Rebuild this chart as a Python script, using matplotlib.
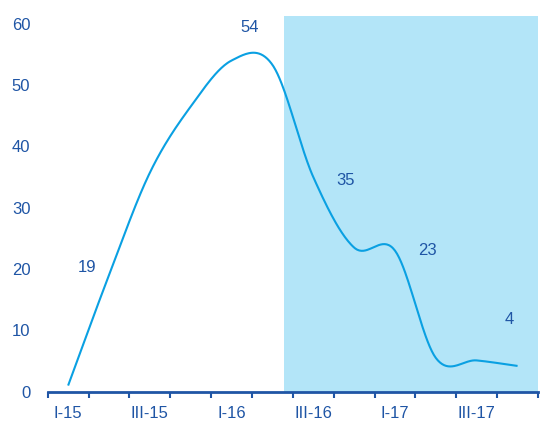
import numpy as np
import matplotlib.pyplot as plt

plt.rcParams["font.family"] = ["Liberation Sans", "DejaVu Sans"]

quarters = ["I-15", "II-15", "III-15", "IV-15",
            "I-16", "II-16", "III-16", "IV-16",
            "I-17", "II-17", "III-17", "IV-17"]
values = [1.0, 19.0, 35.7, 46.5, 54.0, 53.3, 35.0, 23.5, 23.0, 5.5, 5.1, 4.2]

# value labels: (text, x position, y position)
labels = [("19", 0.46, 20.2),
          ("54", 4.45, 59.4),
          ("35", 6.78, 34.5),
          ("23", 8.79, 23.1),
          ("4", 10.79, 11.7)]

shade_start = 5.28

LINE = "#0aa0e2"
SHADE = "#b3e5f8"
TEXT = "#1f55a5"


def smooth(y, n=40):
    # Catmull-Rom spline through the points, straight tangents at both ends
    y = np.asarray(y, dtype=float)
    m = np.empty_like(y)
    m[1:-1] = (y[2:] - y[:-2]) / 2
    m[0] = y[1] - y[0]
    m[-1] = y[-1] - y[-2]
    xs, ys = [], []
    for i in range(len(y) - 1):
        t = np.linspace(0, 1, n, endpoint=(i == len(y) - 2))
        h00 = 2 * t**3 - 3 * t**2 + 1
        h10 = t**3 - 2 * t**2 + t
        h01 = -2 * t**3 + 3 * t**2
        h11 = t**3 - t**2
        xs.append(i + t)
        ys.append(h00 * y[i] + h10 * m[i] + h01 * y[i + 1] + h11 * m[i + 1])
    return np.concatenate(xs), np.concatenate(ys)


fig = plt.figure(figsize=(5.4, 4.21), dpi=100)
ax = fig.add_axes([0.0883, 0.0696, 0.908, 0.893])

ax.axvspan(shade_start, len(quarters) - 0.5, color=SHADE, lw=0, zorder=0)

sx, sy = smooth(values)
ax.plot(sx, sy, color=LINE, lw=1.5, zorder=3, solid_capstyle="butt")

for txt, tx, ty in labels:
    ax.text(tx, ty, txt, color=TEXT, fontsize=12, ha="center", va="center")

ax.set_xlim(-0.5, len(quarters) - 0.5)
ax.set_ylim(0, 61.3)

ax.set_yticks(range(0, 61, 10))
ax.tick_params(axis="y", length=0, pad=12.5, labelcolor=TEXT, labelsize=12)

# boundary tick marks between quarters, labels every second quarter
ax.set_xticks(np.arange(-0.5, len(quarters), 1.0), minor=True)
ax.set_xticks(range(0, len(quarters), 2))
ax.set_xticklabels(quarters[::2])
ax.tick_params(axis="x", which="major", length=0, pad=10,
               labelcolor=TEXT, labelsize=12)
ax.tick_params(axis="x", which="minor", length=4, width=1.5,
               color=TEXT, direction="out")

for side in ["top", "right", "left"]:
    ax.spines[side].set_visible(False)
ax.spines["bottom"].set_color(TEXT)
ax.spines["bottom"].set_linewidth(2)

fig.savefig("out.png", dpi=100)
